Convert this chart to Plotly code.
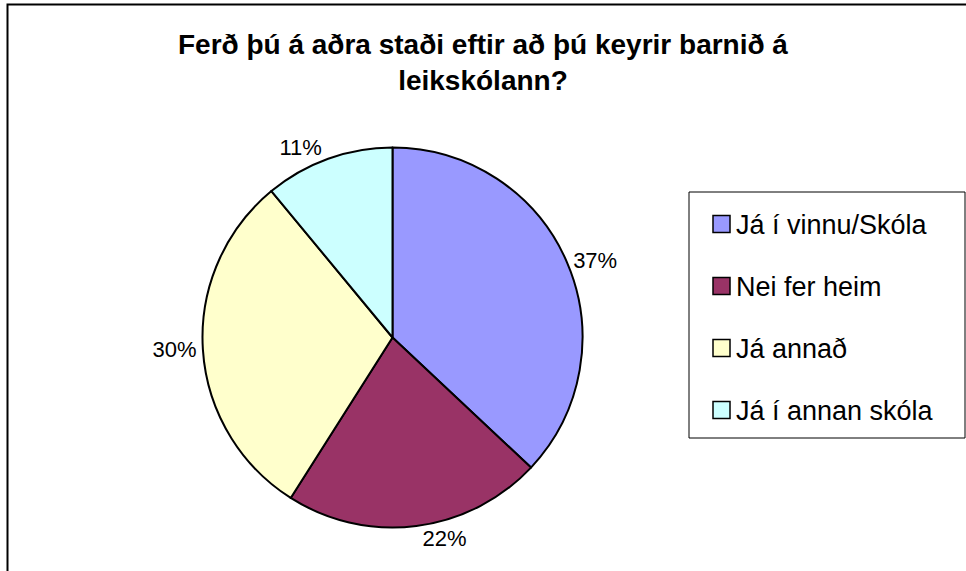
import plotly.graph_objects as go

# ---- data ----
categories = ["Já í vinnu/Skóla", "Nei fer heim", "Já annað", "Já í annan skóla"]
values = [37, 22, 30, 11]
colors = ["#9999FF", "#993366", "#FFFFCC", "#CCFFFF"]
title_lines = ["Ferð þú á aðra staði eftir að þú keyrir barnið á", "leikskólann?"]

W, H = 966, 571
FONT = "Liberation Sans, Arial, sans-serif"

def px(x):
    return x / W

def py(y):
    return 1 - y / H

# pie placement (pixels)
cx, cy, r = 392.5, 337.5, 190

fig = go.Figure(go.Pie(
    labels=categories,
    values=values,
    marker=dict(colors=colors, line=dict(color="black", width=2)),
    sort=False,
    direction="clockwise",
    rotation=0,
    textposition="outside",
    texttemplate="%{percent:.0%}",
    textfont=dict(family=FONT, size=22, color="black"),
    showlegend=False,
    hoverinfo="label+percent",
    domain=dict(x=[px(cx - r), px(cx + r)], y=[py(cy + r), py(cy - r)]),
))

shapes = []
annotations = []

# outer chart border (only left and top visible)
shapes.append(dict(type="rect", xref="paper", yref="paper",
                   x0=px(7.5), x1=1.05, y0=-0.05, y1=py(4.5),
                   line=dict(color="black", width=2), fillcolor="rgba(0,0,0,0)", layer="below"))

# title
annotations.append(dict(text="<b>" + "<br>".join(title_lines) + "</b>",
                        xref="paper", yref="paper", x=px(483), y=py(27),
                        xanchor="center", yanchor="top", showarrow=False, align="center",
                        font=dict(family=FONT, size=28, color="black")))

# manual legend
shapes.append(dict(type="rect", xref="paper", yref="paper",
                   x0=px(689), x1=px(965), y0=py(438), y1=py(192),
                   line=dict(color="black", width=1), fillcolor="white"))
item_y0, item_dy, sq = 224, 62, 17
for i, (lab, col) in enumerate(zip(categories, colors)):
    yc = item_y0 + i * item_dy
    shapes.append(dict(type="rect", xref="paper", yref="paper",
                       x0=px(713), x1=px(713 + sq), y0=py(yc + sq / 2), y1=py(yc - sq / 2),
                       line=dict(color="black", width=1.5), fillcolor=col))
    annotations.append(dict(text=lab, xref="paper", yref="paper", x=px(734), y=py(yc + 1),
                            xanchor="left", yanchor="middle", showarrow=False,
                            font=dict(family=FONT, size=27, color="black")))

fig.update_layout(
    width=W, height=H,
    margin=dict(l=0, r=0, t=0, b=0),
    paper_bgcolor="white",
    plot_bgcolor="white",
    shapes=shapes,
    annotations=annotations,
    font=dict(family=FONT),
)

fig.write_html("out.html", config={"displayModeBar": False},
               post_script="document.body.style.margin='0';document.body.style.overflow='hidden';")
